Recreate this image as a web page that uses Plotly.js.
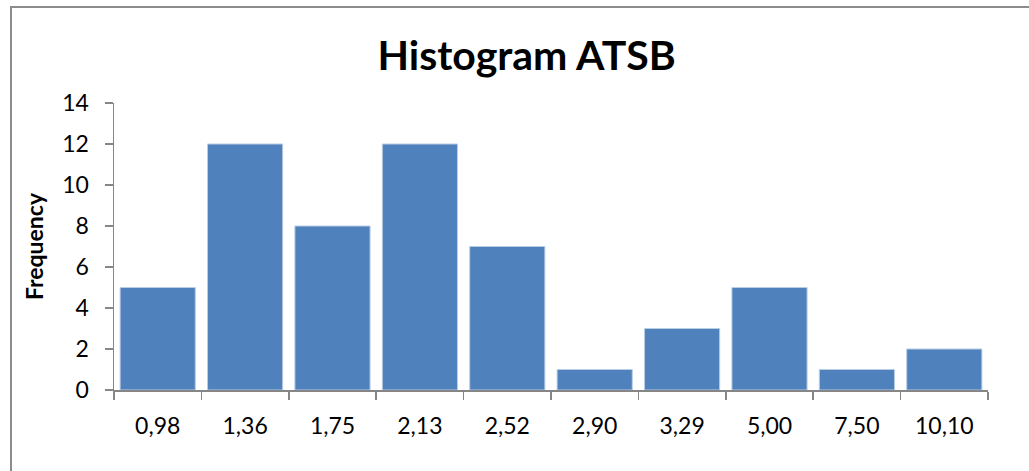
<!DOCTYPE html>
<html>
<head>
<meta charset="utf-8">
<script src="https://cdn.plot.ly/plotly-3.0.1.min.js"></script>
<style>
  html, body { margin: 0; padding: 0; background: #fff; overflow: hidden; }
  #wrap { position: relative; width: 1029px; height: 471px; }
  #chart { position: absolute; left: 0; top: 0; width: 1029px; height: 471px; }
  #frame { position: absolute; left: 10px; top: 6px; width: 1100px; height: 600px;
           border-left: 2px solid #8c8c8c; border-top: 2px solid #8c8c8c; pointer-events: none; }
</style>
</head>
<body>
<div id="wrap">
  <div id="chart"></div>
  <div id="frame"></div>
</div>
<script>
// Bin labels (upper bin edges) and counts per bin
const binLabels = ["0,98", "1,36", "1,75", "2,13", "2,52", "2,90", "3,29", "5,00", "7,50", "10,10"];
const frequency = [5, 12, 8, 12, 7, 1, 3, 5, 1, 2];
const yTicks = [0, 2, 4, 6, 8, 10, 12, 14];

const font = "Lato, 'Open Sans', sans-serif";

const trace = {
  type: "bar",
  x: binLabels,
  y: frequency,
  marker: { color: "#4F81BD", line: { color: "#B9CDE5", width: 1 } },
  hoverinfo: "x+y"
};

const layout = {
  width: 1029,
  height: 471,
  margin: { l: 114, r: 41, t: 103, b: 81 },
  paper_bgcolor: "#ffffff",
  plot_bgcolor: "#ffffff",
  bargap: 0.14,
  showlegend: false,
  title: {
    text: "<b>Histogram ATSB</b>",
    font: { family: font, size: 41, color: "#000" },
    xref: "container", x: 0.5117, xanchor: "center",
    yref: "container", y: 0.882, yanchor: "middle"
  },
  xaxis: {
    type: "category",
    range: [-0.5, 9.5],
    showline: true, linecolor: "#868686", linewidth: 1.5,
    ticks: "outside", tickson: "boundaries", ticklen: 8, tickcolor: "#868686", tickwidth: 1.5,
    showgrid: false, zeroline: false,
    tickfont: { family: font, size: 23, color: "#000" },
    ticklabelstandoff: 15
  },
  yaxis: {
    range: [0, 14],
    tickvals: yTicks,
    ticktext: yTicks.map(String),
    showline: true, linecolor: "#868686", linewidth: 1.5,
    ticks: "outside", ticklen: 8, tickcolor: "#868686", tickwidth: 1.5,
    showgrid: false, zeroline: false,
    tickfont: { family: font, size: 23, color: "#000" },
    ticklabelstandoff: 11,
    title: { text: "<b>Frequency</b>", font: { family: font, size: 23, color: "#000" }, standoff: 12 }
  }
};

Plotly.newPlot("chart", [trace], layout, { staticPlot: true, displayModeBar: false });
</script>
</body>
</html>
